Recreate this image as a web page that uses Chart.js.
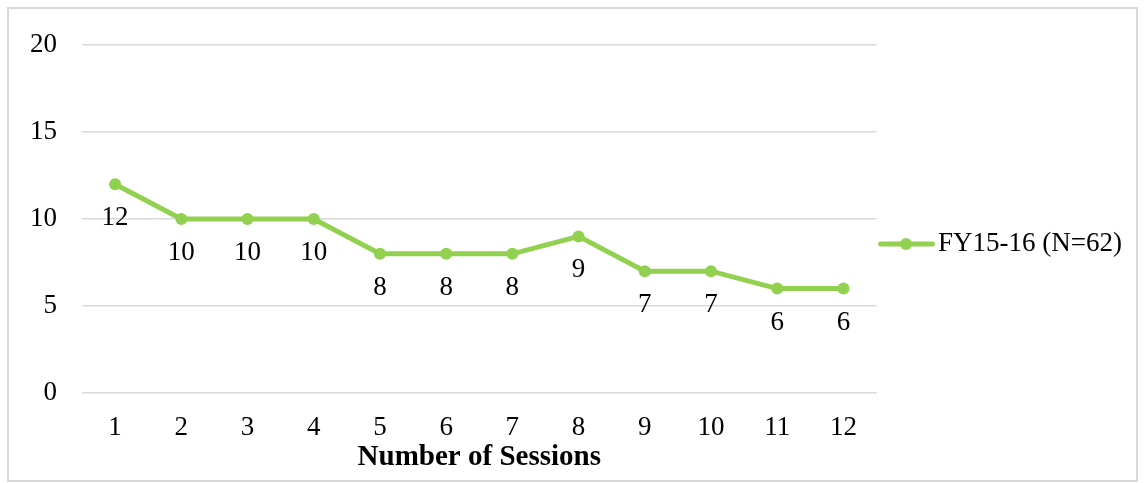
<!DOCTYPE html>
<html>
<head>
<meta charset="utf-8">
<script src="https://cdn.jsdelivr.net/npm/chart.js@4.4.1/dist/chart.umd.min.js"></script>
<style>
  html, body { margin: 0; padding: 0; background: #ffffff; }
  #wrap { position: relative; width: 1145px; height: 483px; }
</style>
</head>
<body>
<div id="wrap"><canvas id="chart" width="1145" height="483"></canvas></div>
<script>
// Sessions attended and the number of clients for each count
const sessions = ['1', '2', '3', '4', '5', '6', '7', '8', '9', '10', '11', '12'];
const clients = [12, 10, 10, 10, 8, 8, 8, 9, 7, 7, 6, 6];
const seriesName = 'FY15-16 (N=62)';
const axisTitle = 'Number of Sessions';
const yTicks = [0, 5, 10, 15, 20];

const GREEN = '#92D050';
const FONT = '"Liberation Serif", "Times New Roman", serif';

// Legend marker: a short line with a dot in the middle
function legendMarker() {
  const c = document.createElement('canvas');
  c.width = 62; c.height = 14;
  const g = c.getContext('2d');
  g.strokeStyle = GREEN;
  g.lineWidth = 5;
  g.lineCap = 'round';
  g.beginPath(); g.moveTo(3, 7); g.lineTo(55, 7); g.stroke();
  g.fillStyle = GREEN;
  g.beginPath(); g.arc(28.5, 7, 6, 0, Math.PI * 2); g.fill();
  return c;
}

// Frame around the whole chart
const framePlugin = {
  id: 'frame',
  beforeDraw(chart) {
    const ctx = chart.ctx;
    ctx.save();
    ctx.fillStyle = '#ffffff';
    ctx.fillRect(0, 0, chart.width, chart.height);
    ctx.strokeStyle = '#d9d9d9';
    ctx.lineWidth = 2;
    ctx.strokeRect(8, 8, 1129, 473);
    ctx.restore();
  }
};

// Value labels drawn below each point
const valueLabels = {
  id: 'valueLabels',
  afterDatasetsDraw(chart) {
    const ctx = chart.ctx;
    const meta = chart.getDatasetMeta(0);
    const data = chart.data.datasets[0].data;
    ctx.save();
    ctx.font = '27px ' + FONT;
    ctx.fillStyle = '#000000';
    ctx.textAlign = 'center';
    ctx.textBaseline = 'middle';
    meta.data.forEach((pt, i) => {
      ctx.fillText(String(data[i]), pt.x, pt.y + 34);
    });
    ctx.restore();
  }
};

const marker = legendMarker();

new Chart(document.getElementById('chart'), {
  type: 'line',
  data: {
    labels: sessions,
    datasets: [{
      label: seriesName,
      data: clients,
      borderColor: GREEN,
      backgroundColor: GREEN,
      borderWidth: 5,
      pointRadius: 6,
      pointBorderWidth: 0,
      pointBackgroundColor: GREEN,
      pointStyle: 'circle',
      tension: 0,
      fill: false
    }]
  },
  options: {
    responsive: false,
    animation: false,
    devicePixelRatio: 1,
    layout: { padding: { left: 5, right: 13, top: 16, bottom: 11 } },
    plugins: {
      title: { display: true, text: '', padding: { top: 28, bottom: 0 }, font: { size: 1, lineHeight: 1 } },
      tooltip: { enabled: false },
      legend: {
        position: 'right',
        labels: {
          usePointStyle: true,
          pointStyleWidth: 32,
          padding: 16,
          color: '#000000',
          font: { family: FONT, size: 27, lineHeight: 1 },
          generateLabels(chart) {
            const ds = chart.data.datasets[0];
            return [{
              text: ds.label,
              pointStyle: marker,
              fillStyle: GREEN,
              strokeStyle: GREEN,
              lineWidth: 0,
              datasetIndex: 0,
              fontColor: '#000000'
            }];
          }
        }
      }
    },
    scales: {
      x: {
        offset: true,
        grid: { display: false },
        border: { display: false },
        afterFit(scale) { scale.height = 79; },
        ticks: { color: '#000000', padding: 11, font: { family: FONT, size: 27 } },
        title: {
          display: true,
          text: axisTitle,
          color: '#000000',
          padding: { top: 0, bottom: 0 },
          font: { family: FONT, size: 29, weight: 'bold', lineHeight: 1 }
        }
      },
      y: {
        min: 0,
        max: 20,
        afterBuildTicks(scale) { scale.ticks = yTicks.map(v => ({ value: v })); },
        grid: { color: '#d9d9d9', lineWidth: 1.5, drawTicks: false },
        border: { display: false },
        ticks: { color: '#000000', padding: 25, font: { family: FONT, size: 27 } }
      }
    }
  },
  plugins: [framePlugin, valueLabels]
});
</script>
</body>
</html>
